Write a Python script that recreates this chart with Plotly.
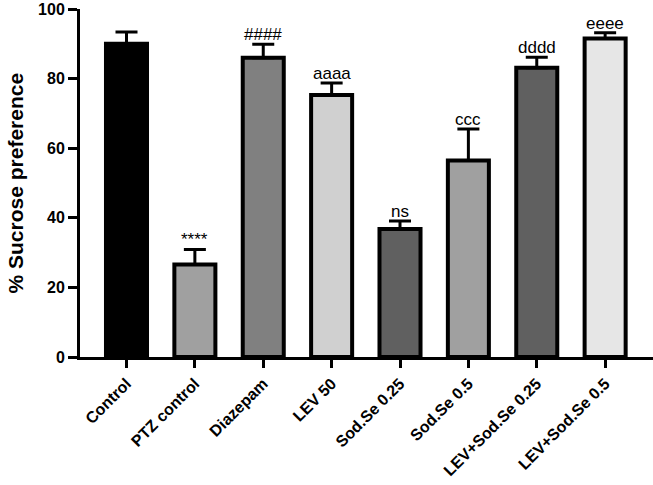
import plotly.graph_objects as go

categories = ["Control", "PTZ control", "Diazepam", "LEV 50", "Sod.Se 0.25",
              "Sod.Se 0.5", "LEV+Sod.Se 0.25", "LEV+Sod.Se 0.5"]
means = [90.0, 26.6, 86.0, 75.3, 36.8, 56.5, 83.1, 91.5]
sem = [3.4, 4.3, 3.9, 3.4, 2.3, 9.0, 3.0, 1.7]
sig_labels = ["", "****", "####", "aaaa", "ns", "ccc", "dddd", "eeee"]
bar_colors = ["#000000", "#a0a0a0", "#808080", "#d0d0d0", "#606060",
              "#a0a0a0", "#606060", "#e6e6e6"]
y_ticks = [0, 20, 40, 60, 80, 100]
y_title = "% Sucrose preference"

FONT = "Arial, Liberation Sans, sans-serif"

fig = go.Figure()
fig.add_trace(go.Bar(
    x=categories, y=means,
    width=0.6,
    marker=dict(color=bar_colors, line=dict(color="black", width=4)),
    error_y=dict(type="data", symmetric=False, array=sem,
                 arrayminus=[0] * len(sem), color="black", thickness=3, width=11),
    showlegend=False,
))

for c, m, s, t in zip(categories, means, sem, sig_labels):
    if t:
        fig.add_annotation(x=c, y=m + s, text=t, showarrow=False,
                           yanchor="bottom", yshift=-2,
                           font=dict(family=FONT, size=17, color="black"))

L, T, B, W = 80, 9, 128, 653
fig.add_annotation(
    xref="paper", yref="paper", x=(1 - L) / (W - L), y=0.5,
    xanchor="left", yanchor="middle", textangle=-90, showarrow=False,
    text=y_title, font=dict(family=FONT, size=21, color="black", weight="bold"),
)

fig.update_layout(
    width=W, height=485,
    margin=dict(l=L, r=0, t=T, b=B),
    plot_bgcolor="white", paper_bgcolor="white",
    font=dict(family=FONT, color="black"),
    bargap=0.3,
)
fig.update_xaxes(
    range=[-0.68, 7.7], showline=True, linewidth=3, linecolor="black",
    ticks="outside", ticklen=8, tickwidth=3, tickcolor="black",
    tickangle=-45, showgrid=False,
    tickfont=dict(family=FONT, size=16, color="black", weight="bold"),
)
fig.update_yaxes(
    range=[0, 100], tickmode="array", tickvals=y_ticks,
    ticktext=[str(v) for v in y_ticks], ticklabeloverflow="allow",
    showline=True, linewidth=3, linecolor="black",
    ticks="outside", ticklen=9, tickwidth=3, tickcolor="black",
    showgrid=False, zeroline=False, automargin=False,
    tickfont=dict(family=FONT, size=16, color="black", weight="bold"),
)

fig.write_html("out.html", config={"displayModeBar": False},
               post_script="document.body.style.margin='0';document.body.style.overflow='hidden';")
